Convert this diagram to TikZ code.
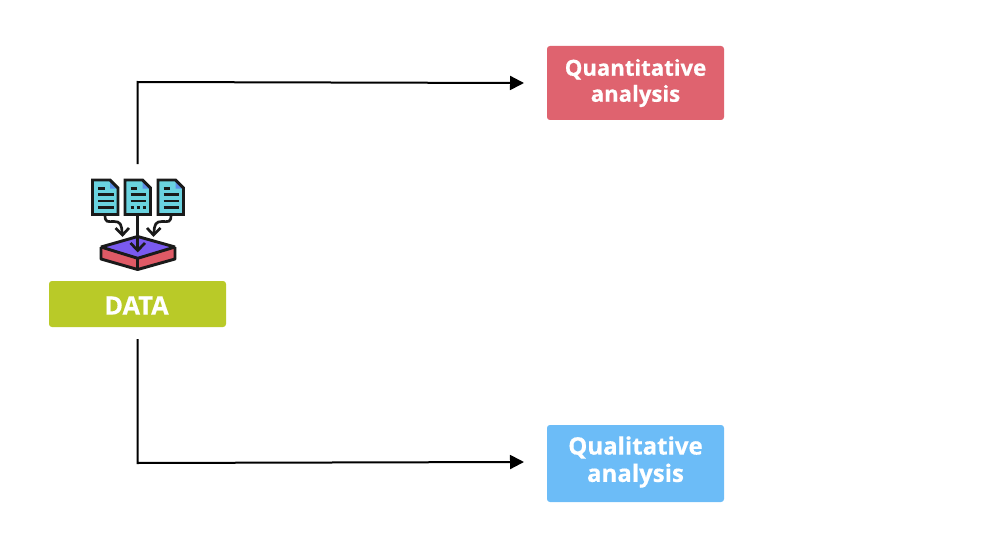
\documentclass[tikz,border=0pt]{standalone}
\usepackage{fontspec}
\setmainfont{Open Sans}[BoldFeatures={FakeBold=0.5}]
\usetikzlibrary{arrows.meta}
\definecolor{datagreen}{HTML}{B9CA28}
\definecolor{quantred}{HTML}{DF636F}
\definecolor{qualblue}{HTML}{6CBCF7}
\definecolor{doccyan}{HTML}{6AD3E0}
\definecolor{foldblue}{HTML}{5B8FE8}
\definecolor{trayviolet}{HTML}{7A5AF0}
\definecolor{trayred}{HTML}{DF5A66}
\definecolor{ink}{HTML}{1A1A1A}
\tikzset{
  labelbox/.style={rounded corners=2.2pt,draw=none,inner sep=0pt,align=center,text=white,
    font=\bfseries\fontsize{16.6}{19.5}\selectfont},
  flow/.style={draw=black,line width=1.5pt,-{Triangle[length=10.5pt,width=10.5pt]}},
  iconline/.style={draw=ink,line width=2.2pt,line join=miter},
  trayline/.style={draw=ink,line width=2.2pt,line join=bevel},
  docline/.style={draw=ink,line width=1.9pt},
  iconarrow/.style={draw=ink,line width=2pt,line cap=butt}
}
\newcommand{\docsheet}[1]{%
  \begin{scope}[shift={(#1,180)}]
    \fill[doccyan] (0,0) -- (17.5,0) -- (25.5,8) -- (25.5,34.5) -- (0,34.5) -- cycle;
    \fill[foldblue] (17.5,1) -- (25,8.5) -- (17.5,8.5) -- cycle;
    \draw[iconline] (0,0) -- (17.5,0) -- (25.5,8) -- (25.5,34.5) -- (0,34.5) -- cycle;
  \end{scope}}
\begin{document}
\begin{tikzpicture}[x=0.75pt,y=-0.75pt]
\useasboundingbox (0,0) rectangle (1000,542);
% boxes
\node[labelbox,fill=datagreen,minimum width=132.75pt,minimum height=34.5pt] (data) at (137.5,304) {};
\node[font=\bfseries\fontsize{19}{22}\selectfont,text=white,inner sep=0pt] (datatext) at (136.5,305.5) {DATA};
\node[labelbox,fill=quantred,minimum width=132.75pt,minimum height=55.5pt] (qa) at (635.5,83) {Quantitative\\analysis};
\node[labelbox,fill=qualblue,minimum width=132.75pt,minimum height=57.75pt] (ql) at (635.5,463.5) {};
\node[font=\bfseries\fontsize{18}{21}\selectfont,text=white,inner sep=0pt,align=center] (qltext) at (635.5,462) {Qualitative\\[-.5pt]analysis};
% icon
\docsheet{92.5}
\docsheet{125}
\docsheet{158}
% doc 1 text
\draw[docline] (98,188.5) -- (104.5,188.5) (98,194.5) -- (113.5,194.5) (98,201) -- (113.5,201) (98,207.5) -- (113.5,207.5);
% doc 2 text
\draw[docline] (130.5,188.5) -- (137,188.5) (130.5,194.5) -- (146,194.5) (130.5,201) -- (146,201);
\draw[docline] (130.5,207.5) -- (134,207.5) (136.5,207.5) -- (140,207.5) (142.5,207.5) -- (146,207.5);
% doc 3 text
\draw[docline] (163.5,188.5) -- (170,188.5) (163.5,194.5) -- (179,194.5) (163.5,201) -- (179,201) (163.5,207.5) -- (179,207.5);
% tray
\fill[trayred] (101,247) -- (137.7,258.3) -- (175,247) -- (175,259) -- (137.7,269.5) -- (101,259) -- cycle;
\fill[trayviolet] (101,247) -- (137.7,236.5) -- (175,247) -- (137.7,258.3) -- cycle;
\draw[trayline] (101,247) -- (137.7,236.5) -- (175,247) -- (137.7,258.3) -- cycle;
\draw[trayline] (101,247) -- (101,259) -- (137.7,269.5) -- (175,259) -- (175,247);
\draw[trayline] (137.7,258.3) -- (137.7,269.5);
% icon arrows
\draw[iconarrow] (137.7,215) -- (137.7,249);
\draw[iconarrow,line join=miter] (130.5,243) -- (137.7,250.5) -- (145,243);
\draw[iconarrow] (105,215) .. controls (105,223) and (108,221.5) .. (114,221.5) .. controls (120,221.5) and (122,224) .. (122,234);
\draw[iconarrow] (115.5,228) -- (122.5,235) -- (129,228);
\draw[iconarrow] (171,215) .. controls (171,223) and (168,221.5) .. (162,221.5) .. controls (156,221.5) and (154,224) .. (154,234);
\draw[iconarrow] (147,228) -- (153.5,235) -- (160.5,228);
% connectors
\coordinate (upstart) at (137.5,164);
\coordinate (upbend) at (137.5,82);
\coordinate (qaend) at (524,83);
\coordinate (downstart) at (137.5,339);
\coordinate (downbend) at (137.5,463);
\coordinate (qlend) at (524,462);
\draw[flow] (upstart) -- (upbend) -- (qaend);
\draw[flow] (downstart) -- (downbend) -- (qlend);
\end{tikzpicture}
\end{document}
